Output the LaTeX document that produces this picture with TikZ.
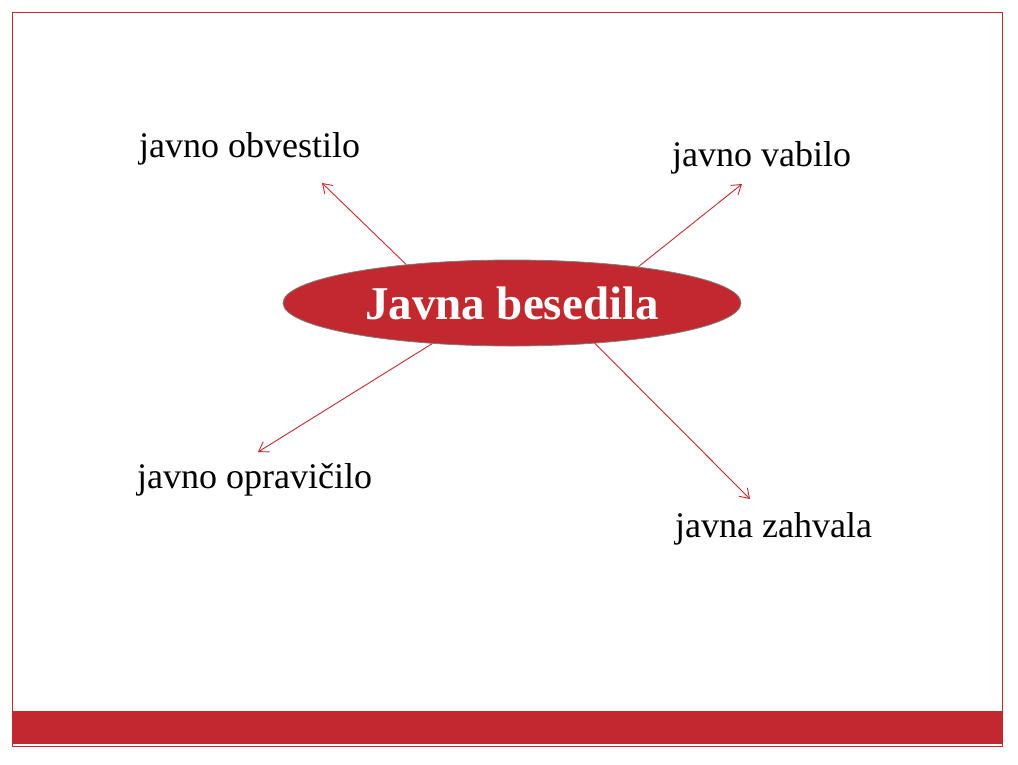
\documentclass[tikz,border=0pt]{standalone}
\usepackage{fontspec}
\setmainfont{Liberation Serif}
\usetikzlibrary{shapes.geometric,arrows.meta}
\definecolor{slidered}{RGB}{193,41,46}
\tikzset{
  label/.style={anchor=base west,inner sep=0pt,font=\fontsize{36}{40}\selectfont},
  link/.style={draw=slidered,line width=0.9pt,-{Straight Barb[length=9pt,width=12pt,line width=0.9pt]}}
}
\begin{document}
\begin{tikzpicture}[x=1pt,y=-1pt]

      \useasboundingbox (0,0) rectangle (1018,764);

      % frame and footer band
      \draw[slidered,line width=1pt] (12,12) rectangle (1002,746);
      \fill[slidered] (12,711) rectangle (1002,744);

      \node[ellipse,fill=slidered,draw=gray,line width=0.8pt,inner sep=0pt,
            minimum width=458pt,minimum height=86pt,text=white,
            font=\bfseries\fontsize{47}{50}\selectfont] (centre) at (512,303) {Javna besedila};

      \node[label] (obvestilo)  at (139,157) {javno obvestilo};
      \node[label] (vabilo)     at (672,166) {javno vabilo};
      \node[label] (opravicilo) at (137,488) {javno opravi\v{c}ilo};
      \node[label] (zahvala)    at (675,537) {javna zahvala};

      \coordinate (tobvestilo)  at (322,183);
      \coordinate (tvabilo)     at (742,184);
      \coordinate (topravicilo) at (258,452);
      \coordinate (tzahvala)    at (750,499);

      \draw[link] (centre.160.9) -- (tobvestilo);
      \draw[link] (centre.16.9)  -- (tvabilo);
      \draw[link] (centre.207.6) -- (topravicilo);
      \draw[link] (centre.334.7) -- (tzahvala);

    \end{tikzpicture}
\end{document}
